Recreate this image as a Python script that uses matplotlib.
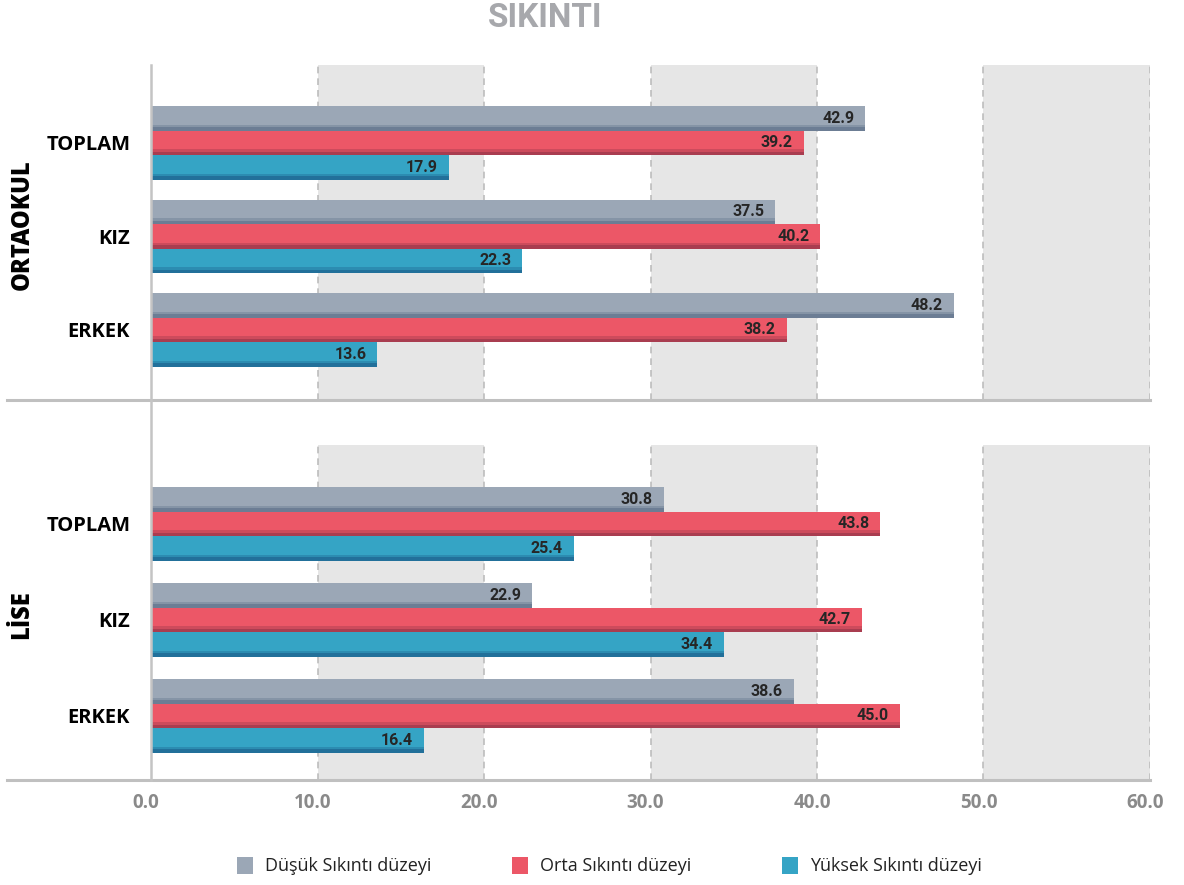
import matplotlib.pyplot as plt
import matplotlib.transforms as mtransforms
from matplotlib.lines import Line2D
from matplotlib.patches import Rectangle

# veriler
kategoriler = ['TOPLAM', 'KIZ', 'ERKEK']
seviyeler = ['Düşük Sıkıntı düzeyi', 'Orta Sıkıntı düzeyi', 'Yüksek Sıkıntı düzeyi']

ortaokul_dusuk = [42.9, 37.5, 48.2]
ortaokul_orta = [39.2, 40.2, 38.2]
ortaokul_yuksek = [17.9, 22.3, 13.6]

lise_dusuk = [30.8, 22.9, 38.6]
lise_orta = [43.8, 42.7, 45.0]
lise_yuksek = [25.4, 34.4, 16.4]

x_ticks = [0, 10, 20, 30, 40, 50, 60]

renkler = ['#9ba7b6', '#ec5767', '#35a4c5']
koyu = ['#6c7d94', '#a93d50', '#22709a']

W, H = 1184, 885
fig = plt.figure(figsize=(W / 100, H / 100), dpi=100)


def fy(p):
    return 1 - p / H


def panel(ax, seriler, ylim):
    ax.set_xlim(0, 60)
    ax.set_ylim(*ylim)
    for a, b in [(10, 20), (30, 40), (50, 60)]:
        ax.axvspan(a, b, color='#e6e6e6', zorder=0, lw=0)
    for x in x_ticks[1:]:
        ax.axvline(x, color='#bdbdbd', lw=1.2, ls=(0, (4, 3)), zorder=0.5)
    # bar yuksekligi: piksele gore birim
    piks = 335 / (ylim[0] - ylim[1])
    h = 24.5 / piks
    s = 3.5 / piks
    for i, (vals, c, kc) in enumerate(zip(seriler, renkler, koyu)):
        for j, v in enumerate(vals):
            y = j + (i - 1) * h
            ax.barh(y, v, height=h, color=c, zorder=2, lw=0)
            ax.barh(y + h / 2 - s / 2, v, height=s, color=kc, zorder=3, lw=0)
            ax.barh(y + h / 2 - s - s / 3, v, height=s / 1.5, color=kc,
                    alpha=0.45, zorder=3, lw=0)
            ax.annotate(f'{v:.1f}', (v, y), xytext=(-8, 0),
                        textcoords='offset points', ha='right', va='center',
                        fontsize=11.5, fontweight='bold', color='#262626',
                        family='Roboto', zorder=4)
    ax.set_yticks(range(3), kategoriler)
    ax.tick_params(axis='y', length=0, pad=15, labelsize=14.5)
    for t in ax.get_yticklabels():
        t.set_fontweight('bold')
        t.set_family('Open Sans')
    for sp in ax.spines.values():
        sp.set_visible(False)


ax1 = fig.add_axes([151 / W, fy(400), 999 / W, 335 / H])
ax2 = fig.add_axes([151 / W, fy(780), 999 / W, 335 / H])

panel(ax1, [ortaokul_dusuk, ortaokul_orta, ortaokul_yuksek], (2.75, -0.834))
panel(ax2, [lise_dusuk, lise_orta, lise_yuksek], (2.667, -0.823))

ax1.set_xticks([])
ax2.set_xticks(x_ticks, [f'{v:.1f}' for v in x_ticks])
ax2.tick_params(axis='x', length=0, pad=9, labelsize=13.5, labelcolor='#8a8a8a')
kaydir = mtransforms.ScaledTranslation(-0.05, 0, fig.dpi_scale_trans)
for t in ax2.get_xticklabels():
    t.set_fontweight('bold')
    t.set_family('Open Sans')
    t.set_transform(t.get_transform() + kaydir)

# ayirici cizgiler ve dikey eksen
for yp in (400, 780):
    fig.add_artist(Line2D([7 / W, 1150 / W], [fy(yp), fy(yp)],
                          color='#c0c0c0', lw=2.2, zorder=5))
fig.add_artist(Line2D([151 / W, 151 / W], [fy(65), fy(780)],
                      color='#c4c4c4', lw=1.8, zorder=5))

# grup basliklari
fig.text(22 / W, fy(225), 'ORTAOKUL', rotation=90, ha='center', va='center',
         fontsize=17, fontweight='heavy', family='Open Sans')
fig.text(22 / W, fy(615), 'LİSE', rotation=90, ha='center', va='center',
         fontsize=17, fontweight='heavy', family='Open Sans')

fig.text(545 / W, fy(18), 'SIKINTI', ha='center', va='center', fontsize=24,
         fontweight='bold', color='#a7a8ac', family='Roboto')

# lejant
for x0, lab, c in zip([237, 512, 782], seviyeler, renkler):
    fig.add_artist(Rectangle((x0 / W, fy(874)), 16 / W, 17 / H,
                             transform=fig.transFigure, color=c, lw=0))
    fig.text((x0 + 28) / W, fy(866), lab, ha='left', va='center',
             fontsize=13, color='#222222', family='Open Sans')

fig.savefig('out.png', dpi=100)
